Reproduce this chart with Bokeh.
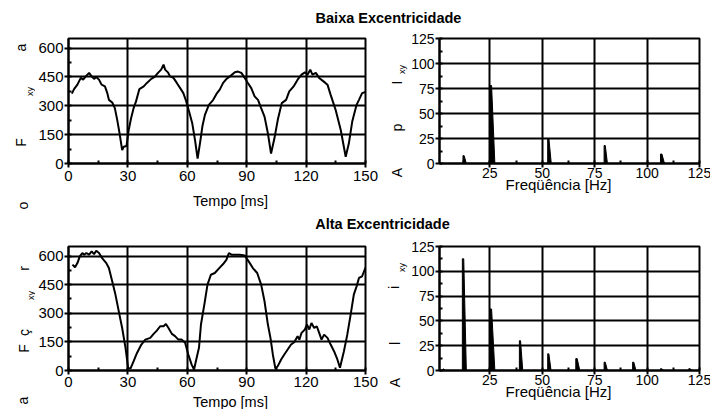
import math
from bokeh.plotting import figure
from bokeh.models import Range1d, SingleIntervalTicker, Label, Title
from bokeh.layouts import column, row
from bokeh.embed import file_html
from bokeh.resources import INLINE

FONT = "Liberation Sans"

# ---------------- data ----------------
title_low = "Baixa Excentricidade"
title_high = "Alta Excentricidade"
xlabel_time = "Tempo [ms]"
xlabel_freq = "Freqüência [Hz]"

t_low = [1.7, 2.8, 4.5, 6.2, 7.4, 8.7, 10.4, 11.7, 12.9, 14.0, 15.4, 16.7, 18.4, 19.6, 20.4,
         22.1, 23.4, 24.6, 25.8, 27.1, 27.9, 29.3, 30.4, 31.6, 32.9, 34.1, 35.8, 38.0, 39.6,
         41.8, 43.5, 45.2, 46.8, 48.0, 48.8, 50.2, 51.3, 53.0, 54.7, 56.4, 58.0, 59.2, 60.9,
         62.5, 63.9, 65.2, 66.4, 67.6, 68.9, 70.9, 73.1, 74.8, 76.4, 78.1, 79.8, 82.0, 84.0,
         85.6, 87.3, 89.0, 90.6, 92.3, 94.0, 95.7, 97.3, 99.0, 100.7, 102.3, 104.0, 105.7,
         107.7, 109.9, 111.5, 113.7, 115.7, 117.7, 119.4, 120.7, 122.1, 123.2, 124.9, 126.6,
         128.8, 130.8, 132.4, 134.9, 137.5, 140.0, 141.6, 143.3, 145.5, 146.7, 148.3, 150.0]
f_low = [363, 387, 410, 445, 436, 453, 471, 453, 440, 450, 436, 410, 401, 366, 331,
         317, 288, 227, 157, 70, 87, 91, 174, 235, 288, 323, 387, 401, 419,
         440, 450, 471, 488, 514, 488, 474, 453, 445, 419, 392, 366, 331, 270,
         209, 122, 26, 105, 192, 253, 305, 331, 363, 384, 419, 440, 457, 474,
         478, 471, 445, 419, 392, 349, 331, 288, 244, 157, 52, 131, 227,
         314, 331, 375, 401, 436, 462, 474, 462, 488, 462, 471, 445,
         427, 410, 357, 279, 174, 35, 105, 218, 305, 331, 366, 372]

t_high = [2.0, 3.3, 4.5, 5.7, 7.0, 7.9, 9.0, 10.4, 11.7, 12.9, 14.0, 15.4, 17.0, 19.1, 20.4,
          22.1, 23.7, 25.4, 27.1, 28.8, 30.1, 31.3, 32.9, 34.6, 36.8, 38.8, 41.3, 43.0, 44.6,
          46.3, 48.0, 49.2, 50.5, 52.2, 53.8, 55.5, 57.2, 58.9, 60.5, 62.2, 63.4, 64.7, 65.9,
          66.9, 68.6, 70.2, 71.9, 73.9, 75.9, 78.1, 79.8, 81.0, 82.3, 84.0, 86.5, 89.0, 91.0,
          93.1, 95.3, 97.3, 99.0, 100.7, 102.0, 103.2, 104.5, 105.7, 107.4, 109.0, 110.7,
          112.4, 114.0, 115.7, 116.6, 117.7, 119.4, 120.4, 121.6, 122.7, 124.1, 125.4, 126.6,
          127.8, 129.1, 130.8, 132.4, 134.1, 135.8, 137.1, 139.1, 140.8, 142.5, 144.1, 145.5,
          146.7, 148.3, 150.0]
f_high = [555, 541, 563, 598, 616, 607, 616, 607, 624, 610, 628, 616, 589, 563, 537,
          467, 398, 310, 223, 119, 14, 10, 49, 92, 136, 162, 171, 192, 209,
          232, 232, 244, 223, 192, 180, 162, 162, 145, 84, 31, 5, 66, 119,
          241, 345, 450, 502, 511, 534, 558, 581, 616, 607, 607, 607, 603, 572,
          537, 511, 450, 363, 241, 171, 84, 10, 23, 58, 84, 110,
          136, 148, 180, 162, 197, 215, 241, 215, 249, 223, 232, 197,
          162, 188, 171, 136, 101, 58, 14, 101, 188, 293, 398, 441,
          485, 494, 540]

# spectrum peaks: start frequency, width, amplitude
pk_low_f = [12.2, 25.0, 52.6, 79.5, 106.4]
pk_low_w = [1.6, 2.4, 1.7, 1.6, 1.9]
pk_low_a = [7.8, 78.0, 24.5, 18.0, 9.5]

pk_high_f = [2.6, 11.9, 25.0, 39.1, 52.6, 66.0, 79.5, 93.1, 106.4, 119.9]
pk_high_w = [1.2, 1.9, 2.4, 1.6, 1.6, 1.9, 1.6, 1.6, 1.6, 1.6]
pk_high_a = [1.5, 112.6, 62.0, 30.0, 16.8, 12.0, 8.4, 8.4, 1.8, 1.8]

R = math.pi / 2


# ---------------- helpers ----------------
def no_align(fig):
    try:
        fig.frame_align = False
    except Exception:
        pass


def blank(w, h):
    b = figure(width=w, height=h, x_axis_location=None, y_axis_location=None,
               min_border=0, toolbar_location=None, tools="", output_backend="svg",
               x_range=Range1d(0, 1), y_range=Range1d(0, 1))
    b.outline_line_color = None
    b.grid.visible = False
    no_align(b)
    return b


def strip(x0, y0, w, h, items):
    """Text-only panel. items: (text, X, Y, size, angle, bold) with X, Y = page centres."""
    b = blank(w, h)
    for text, X, Y, size, ang, bold in items:
        b.add_layout(Label(x=X - x0, y=(y0 + h) - Y, x_units="screen", y_units="screen",
                           text=text, angle=ang, text_font=FONT, text_font_size=size,
                           text_align="center", text_baseline="middle",
                           text_font_style="bold" if bold else "normal",
                           text_color="black"))
    return column(b)


def make_fig(xr, yr, xint, yint, fw, fh, bl, br, bt, bb, tick_size, xstand):
    p = figure(frame_width=fw, frame_height=fh, x_range=Range1d(*xr), y_range=Range1d(*yr),
               min_border_left=bl, min_border_right=br, min_border_top=bt,
               min_border_bottom=bb, toolbar_location=None, tools="",
               output_backend="svg")
    no_align(p)
    p.xaxis.ticker = SingleIntervalTicker(interval=xint, num_minor_ticks=2)
    p.yaxis.ticker = SingleIntervalTicker(interval=yint, num_minor_ticks=2)
    for ax in (p.xaxis, p.yaxis):
        ax.axis_line_width = 2
        ax.axis_line_color = "black"
        ax.major_tick_line_width = 2
        ax.major_tick_line_color = "black"
        ax.minor_tick_line_width = 2
        ax.minor_tick_line_color = "black"
        ax.major_tick_in = 0
        ax.major_tick_out = 4
        ax.minor_tick_in = 3
        ax.minor_tick_out = 0
        ax.major_label_text_font = FONT
        ax.major_label_text_font_size = tick_size
        ax.major_label_text_color = "black"
    p.xaxis.major_label_standoff = xstand
    p.yaxis.major_label_standoff = 1
    p.grid.grid_line_color = "black"
    p.grid.grid_line_width = 2
    p.outline_line_color = "black"
    p.outline_line_width = 2
    return p


def axis_title(p, text, left_offset, standoff, size):
    p.add_layout(Title(text=text, align="left", offset=left_offset, standoff=standoff,
                       vertical_align="middle", text_font=FONT, text_font_size=size,
                       text_font_style="normal", text_color="black"), "below")


def spikes(p, f0, w, a):
    xs = [[f, f, f + 0.35 * ww, f + ww] for f, ww in zip(f0, w)]
    ys = [[0, aa, aa, 0] for aa in a]
    p.patches(xs, ys, fill_color="black", line_color="black", line_width=1)


# ---------------- titles ----------------
t1 = strip(0, 0, 710, 28, [(title_low, 388, 17, "14.5px", 0, True)])
t2 = strip(0, 212, 710, 23, [(title_high, 382, 223, "14.5px", 0, True)])

# ---------------- top row (y 28..212) ----------------
sL1 = strip(0, 28, 35, 162, [("a", 20, 47, "14px", R, False),
                             ("xy", 29, 91, "9px", R, False),
                             ("F", 20, 142, "14px", R, False)])
p1 = make_fig((0, 150), (0, 650), 30, 150, 297, 125, 32, 16, 10, 27, "15px", 3)
p1.line(t_low, f_low, line_color="black", line_width=2)
sTL = strip(0, 190, 380, 22, [(xlabel_time, 230, 200, "14.5px", 0, False),
                              ("o", 22, 205, "14px", R, False)])

sR1 = strip(380, 28, 27, 184, [("I", 395, 82, "14px", R, False),
                               ("xy", 400, 69, "9px", R, False),
                               ("p", 395, 127, "14px", R, False),
                               ("A", 395, 172, "14px", R, False)])
p2 = make_fig((1, 125), (0, 125), 25, 25, 260, 125, 30, 13, 10, 49, "14px", 0)
spikes(p2, pk_low_f, pk_low_w, pk_low_a)
axis_title(p2, xlabel_freq, 66, -11, "15px")

# ---------------- bottom row (y 235..409) ----------------
sL2 = strip(0, 235, 35, 158, [("r", 23, 268, "14px", R, False),
                              ("xy", 30, 295, "9px", R, False),
                              ("ç", 23, 332, "14px", R, False),
                              ("F", 23, 348, "14px", R, False)])
p3 = make_fig((0, 150), (0, 650), 30, 150, 297, 124, 32, 16, 11, 23, "15px", 2)
p3.line(t_high, f_high, line_color="black", line_width=2)
sBL = strip(0, 393, 380, 16, [(xlabel_time, 230, 401, "14.5px", 0, False),
                              ("a", 22, 400, "14px", R, False)])

sR2 = strip(380, 235, 27, 174, [("xy", 400, 267, "9px", R, False),
                                ("i", 392, 287, "14px", R, False),
                                ("l", 393, 343, "14px", R, False),
                                ("A", 393, 382, "14px", R, False)])
p4 = make_fig((1, 125), (0, 125), 25, 25, 260, 124, 30, 13, 11, 39, "14px", 0)
spikes(p4, pk_high_f, pk_high_w, pk_high_a)
axis_title(p4, xlabel_freq, 66, -11, "15px")

top = row(column(row(sL1, p1), sTL), row(sR1, p2))
bottom = row(column(row(sL2, p3), sBL), row(sR2, p4))
layout = column(t1, top, t2, bottom)

open("out.html", "w").write(file_html(layout, INLINE))
